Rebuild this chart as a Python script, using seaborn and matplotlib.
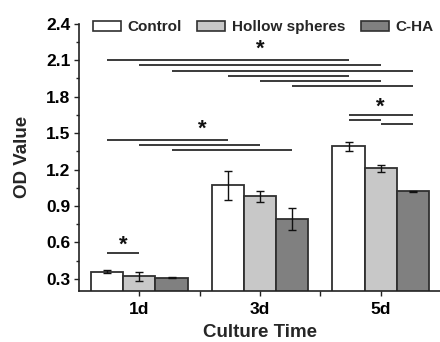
import numpy as np
import pandas as pd
import matplotlib
matplotlib.use("Agg")
import matplotlib.pyplot as plt
from matplotlib.patches import Patch
from matplotlib.ticker import MultipleLocator
import seaborn as sns

# Cell proliferation (OD) at each culture time point
days = ["1d", "3d", "5d"]
groups = ["Control", "Hollow spheres", "C-HA"]
od_control = [0.36, 1.07, 1.39]
od_hollow = [0.32, 0.98, 1.21]
od_cha = [0.31, 0.79, 1.02]
sd_control = [0.01, 0.12, 0.035]
sd_hollow = [0.04, 0.045, 0.03]
sd_cha = [0.004, 0.09, 0.006]

# Significance brackets: (day_a, group_a, day_b, group_b, height)
brackets = [
    (0, 0, 2, 0, 2.10), (0, 1, 2, 1, 2.062), (0, 2, 2, 2, 2.015),
    (1, 0, 2, 0, 1.968), (1, 1, 2, 1, 1.93), (1, 2, 2, 2, 1.886),
    (0, 0, 1, 0, 1.445), (0, 1, 1, 1, 1.403), (0, 2, 1, 2, 1.36),
    (2, 0, 2, 2, 1.646), (2, 0, 2, 1, 1.607), (2, 1, 2, 2, 1.577),
    (0, 0, 0, 1, 0.517),
]
# Asterisks: (x in category units, height)
stars = [(1.0, 2.19), (0.52, 1.53), (2.0, 1.71), (-0.13, 0.575)]

df = pd.DataFrame({
    "day": days * 3,
    "group": np.repeat(groups, 3),
    "od": od_control + od_hollow + od_cha,
    "sd": sd_control + sd_hollow + sd_cha,
})

sns.set_theme(style="ticks")
plt.rcParams["font.family"] = ["Liberation Sans", "DejaVu Sans"]
plt.rcParams["font.weight"] = "bold"

palette = {"Control": "#ffffff", "Hollow spheres": "#c8c8c8", "C-HA": "#808080"}
edge = "#303030"

fig = plt.figure(figsize=(4.4, 3.42), dpi=100)
ax = fig.add_axes([0.1795, 0.149, 0.823, 0.7816])

sns.barplot(data=df, x="day", y="od", hue="group", order=days, hue_order=groups,
            palette=palette, edgecolor=edge, linewidth=1.3, errorbar=None,
            width=0.8, legend=False, ax=ax)

# bar centres, grouped by hue then day
centers = {}
for gi, g in enumerate(groups):
    cont = ax.containers[gi]
    for di, bar in enumerate(cont):
        centers[(di, gi)] = bar.get_x() + bar.get_width() / 2
        ax.errorbar(centers[(di, gi)], bar.get_height(),
                    yerr=df[(df.group == g) & (df.day == days[di])].sd.iloc[0],
                    fmt="none", ecolor="#111111", elinewidth=1.0,
                    capsize=3, capthick=1.0, zorder=5)

for da, ga, db, gb, h in brackets:
    ax.plot([centers[(da, ga)], centers[(db, gb)]], [h, h],
            color="#3a3a3a", lw=1.4, solid_capstyle="butt", zorder=4)

for x, h in stars:
    ax.text(x, h, "*", ha="center", va="center", fontsize=16,
            fontweight="bold", color="#111111")

ax.set_xlim(-0.5, 2.5)
ax.set_ylim(0.2, 2.4)
ax.yaxis.set_minor_locator(MultipleLocator(0.15))
yt = np.arange(0.3, 2.41, 0.3)
ax.set_yticks(yt)
ax.set_yticklabels([f"{v:.1f}" for v in yt])
ax.set_xticks([0.5, 1.5], minor=True)
ax.tick_params(axis="both", which="major", length=3.6, width=1.0,
               labelsize=12.5, colors="#222222", direction="out", pad=2.5)
ax.tick_params(axis="x", which="major", pad=4.5)
ax.tick_params(axis="both", which="minor", length=2.2, width=1.0,
               direction="out", colors="#222222")
ax.tick_params(axis="x", which="minor", length=3.6)
for lab in ax.get_xticklabels() + ax.get_yticklabels():
    lab.set_fontweight("bold")
    lab.set_color("black")

sns.despine(ax=ax)
for s in ("left", "bottom"):
    ax.spines[s].set_linewidth(1.2)
    ax.spines[s].set_color("#222222")

ax.set_xlabel("Culture Time", fontsize=13.5, fontweight="bold", labelpad=4.5)
ax.set_ylabel("OD Value", fontsize=13.5, fontweight="bold", labelpad=11)

handles = [Patch(facecolor=palette[g], edgecolor=edge, linewidth=1.2, label=g)
           for g in groups]
leg = fig.legend(handles=handles, loc="center left",
                 bbox_to_anchor=(93 / 440, 1 - 27 / 342), ncol=3, frameon=False,
                 fontsize=11, handlelength=1.83, handleheight=0.65,
                 handletextpad=0.4, columnspacing=1.05, borderpad=0,
                 borderaxespad=0)
for t in leg.get_texts():
    t.set_fontweight("bold")

fig.savefig("out.png", dpi=100)
